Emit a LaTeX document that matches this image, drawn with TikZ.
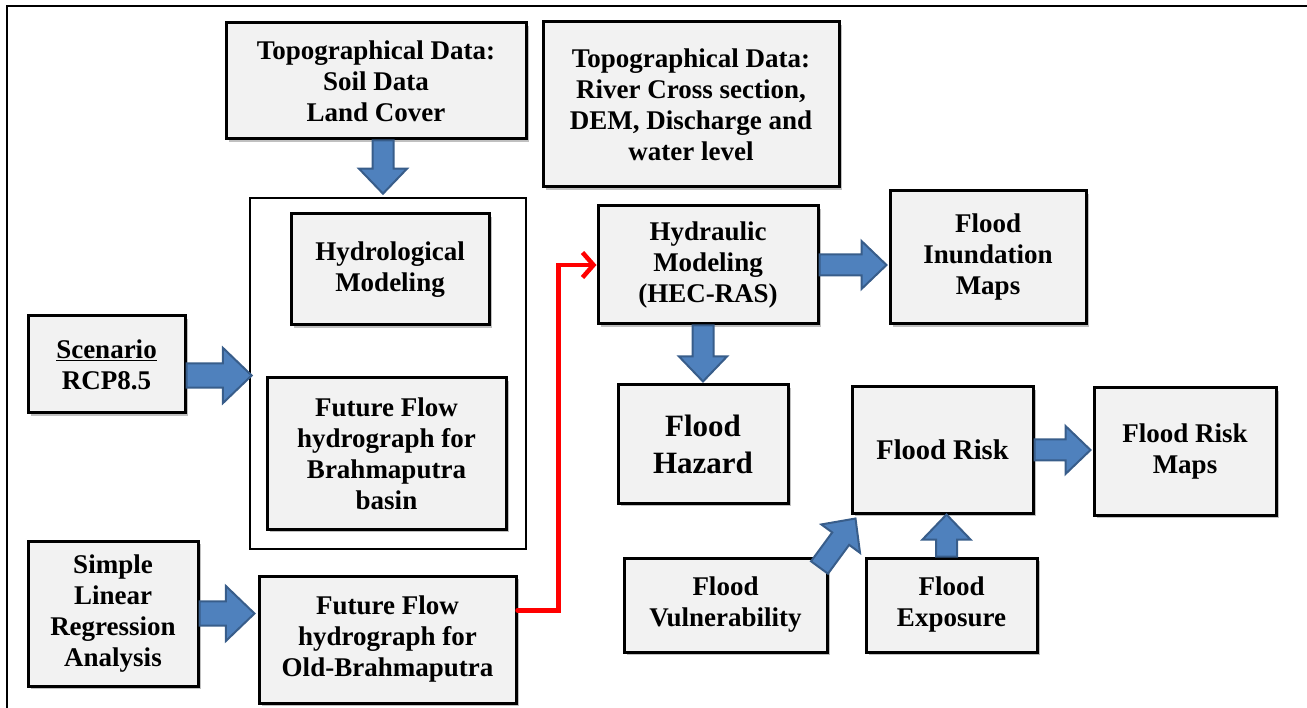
\documentclass[tikz,border=0pt]{standalone}
\usepackage{fontspec}
\setmainfont{Liberation Serif}
\usepackage{tikz}
\usetikzlibrary{positioning, arrows.meta, calc, shadows}
\definecolor{boxfill}{HTML}{F2F2F2}
\definecolor{arrfill}{HTML}{4F81BD}
\definecolor{arrline}{HTML}{385D8A}

% fat blue arrow between two points, #1 scales it
\newcommand\blockarrow[3][1]{%
  \path[barrow] let \p1=(#2), \p2=(#3),
    \n1={atan2(\y2-\y1,\x2-\x1)}, \n2={veclen(\x2-\x1,\y2-\y1)} in
    [shift={(\p1)}, rotate=\n1]
    (0,{10.5*#1}) -- ({\n2-25*#1},{10.5*#1}) -- ({\n2-25*#1},{24*#1})
    -- (\n2,0) -- ({\n2-25*#1},{-24*#1}) -- ({\n2-25*#1},{-10.5*#1})
    -- (0,{-10.5*#1}) -- cycle;}

\begin{document}
\begin{tikzpicture}[x=1pt, y=-1pt,
  box/.style={draw, line width=3pt, fill=boxfill, align=center, inner sep=2pt,
    drop shadow={fill=black!55, opacity=.45, shadow xshift=2.5pt, shadow yshift=-3pt},
    font=\bfseries\fontsize{27pt}{31pt}\selectfont},
  barrow/.style={draw=arrline, fill=arrfill, line width=2pt, line join=miter},
  flow/.style={-{Straight Barb[length=11pt, width=25pt]}, red, line width=4.5pt,
    line cap=round, line join=miter}]
\useasboundingbox (0,0) rectangle (1307,708);
\draw[line width=2.5pt] (7,708) -- (7,6) -- (1307,6);

\node[box, minimum width=300pt, minimum height=116pt] (topo1) at (376,81)
  {Topographical Data:\\Soil Data\\Land Cover};
\node[box, minimum width=296pt, minimum height=165pt] (topo2) at (691,104.5)
  {Topographical Data:\\River Cross section,\\DEM, Discharge and\\water level};
\node[draw, line width=2.6pt, minimum width=276pt, minimum height=351pt] (cont) at (388,373.5) {};
\node[box, minimum width=198pt, minimum height=111pt] (hydro) at (390,269.5)
  {Hydrological\\Modeling};
\node[box, minimum width=239pt, minimum height=151pt] (fbrahma) at (386.5,453.5)
  {Future Flow\\hydrograph for\\Brahmaputra\\basin};
\node[box, minimum width=157pt, minimum height=97pt] (scen) at (106.5,364.5)
  {\underline{Scenario}\\RCP8.5};
\node[box, minimum width=170pt, minimum height=145pt] (slr) at (113,613.5)
  {Simple\\Linear\\Regression\\Analysis};
\node[box, minimum width=257pt, minimum height=127pt] (fold) at (387.5,639.5)
  {Future Flow\\hydrograph for\\Old-Brahmaputra};
\node[box, minimum width=220pt, minimum height=118pt] (hyd) at (708,265)
  {Hydraulic\\Modeling\\(HEC-RAS)};
\node[box, minimum width=196pt, minimum height=133pt] (inund) at (988,257.5)
  {Flood\\Inundation\\Maps};
\node[box, minimum width=170pt, minimum height=118pt,
  font=\bfseries\fontsize{31pt}{37pt}\selectfont] (hazard) at (703,444)
  {Flood\\Hazard};
\node[box, minimum width=181pt, minimum height=126pt,
  font=\bfseries\fontsize{28.5pt}{34pt}\selectfont] (risk) at (942.5,450)
  {Flood Risk};
\node[box, minimum width=182pt, minimum height=127pt] (rmaps) at (1185,451.5)
  {Flood Risk\\Maps};
\node[box, minimum width=203pt, minimum height=94pt] (vul) at (725.5,605)
  {Flood\\Vulnerability};
\node[box, minimum width=171pt, minimum height=94pt] (expo) at (951.5,605)
  {Flood\\Exposure};

\blockarrow{$(topo1.south)+(7,0)$}{$(topo1.south |- cont.north)+(7,-3)$}
\blockarrow[1.15]{$(scen.east)+(0,11)$}{$(scen.east -| cont.west)+(3,11)$}
\blockarrow[1.15]{slr.east}{$(slr.east -| fold.west)+(-3,0)$}
\blockarrow{hyd.east}{$(hyd.east -| inund.west)+(-2,0)$}
\blockarrow{hazard.north |- hyd.south}{$(hazard.north)+(0,-2)$}
\blockarrow{risk.east}{$(risk.east -| rmaps.west)+(-2,0)$}
\blockarrow{$(expo.north)+(-5,0)$}{$(expo.north |- risk.south)+(-5,0)$}
\blockarrow{$(vul.north east)+(-9,11)$}{$(risk.south west)+(5,4)$}

\draw[flow] ($(fold.east)+(0,-29)$) -- ++(41,0) |- (hyd.west);
\end{tikzpicture}
\end{document}
